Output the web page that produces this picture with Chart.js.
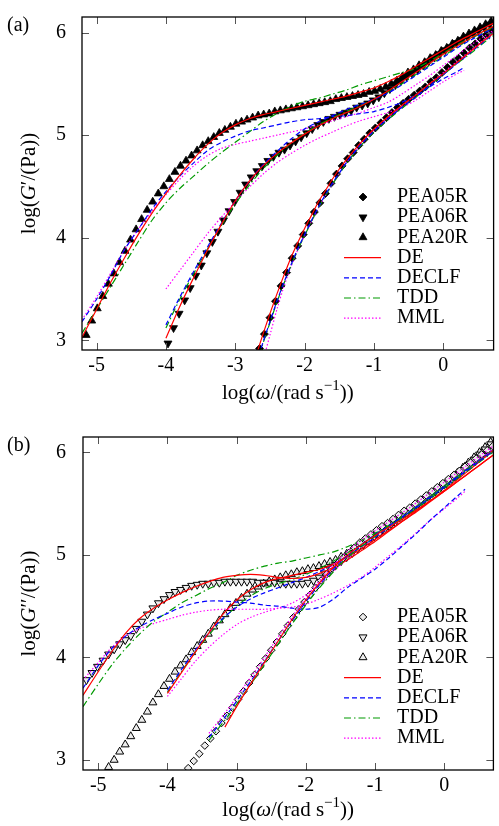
<!DOCTYPE html>
<html>
  <head>
    <meta charset="utf-8">
    <title>G' and G'' fits</title>
    <script src="https://cdn.jsdelivr.net/npm/chart.js"></script>
    <style>
      body { margin: 0; background: #fff; }
      #wrap { position: relative; width: 499px; height: 826px; }
      canvas { position: absolute; left: 0; }
    </style>
  </head>
  <body>
    <div id="wrap">
      <canvas id="chartA" width="499" height="420" style="top:0"></canvas>
      <canvas id="chartB" width="499" height="406" style="top:420px"></canvas>
    </div>
    <script>
      const xTicks = [-5, -4, -3, -2, -1, 0];
      const yTicks = [3, 4, 5, 6];
      const legendLabels = ['PEA05R', 'PEA06R', 'PEA20R', 'DE', 'DECLF', 'TDD', 'MML'];

      // ---- (a) G' : measured points ----
      const a_pea05r = [[-2.65,2.92],[-2.58,3.06],[-2.5,3.22],[-2.42,3.38],[-2.34,3.53],[-2.26,3.66],[-2.18,3.8],[-2.1,3.92],[-2.02,4.03],[-1.94,4.14],[-1.86,4.25],[-1.78,4.34],[-1.7,4.43],[-1.62,4.53],[-1.54,4.62],[-1.46,4.7],[-1.38,4.77],[-1.3,4.83],[-1.22,4.9],[-1.14,4.96],[-1.06,5.02],[-0.98,5.07],[-0.9,5.12],[-0.82,5.17],[-0.74,5.22],[-0.66,5.27],[-0.58,5.31],[-0.5,5.35],[-0.42,5.39],[-0.34,5.43],[-0.26,5.47],[-0.18,5.52],[-0.1,5.56],[-0.02,5.61],[0.06,5.66],[0.14,5.71],[0.22,5.75],[0.3,5.8],[0.38,5.85],[0.46,5.89],[0.54,5.94],[0.62,5.98],[0.7,6.02]];
      const a_pea06r = [[-3.97,2.97],[-3.89,3.12],[-3.81,3.26],[-3.73,3.39],[-3.65,3.51],[-3.57,3.63],[-3.49,3.73],[-3.41,3.85],[-3.33,3.96],[-3.25,4.06],[-3.17,4.17],[-3.09,4.26],[-3.01,4.35],[-2.93,4.44],[-2.85,4.52],[-2.77,4.59],[-2.69,4.65],[-2.61,4.7],[-2.53,4.75],[-2.45,4.79],[-2.37,4.83],[-2.29,4.86],[-2.21,4.9],[-2.13,4.94],[-2.05,4.98],[-1.97,5.02],[-1.89,5.06],[-1.81,5.1],[-1.73,5.13],[-1.65,5.16],[-1.57,5.18],[-1.49,5.2],[-1.41,5.22],[-1.33,5.24],[-1.25,5.27],[-1.17,5.29],[-1.09,5.31],[-1.01,5.34],[-0.93,5.37],[-0.85,5.41],[-0.77,5.45],[-0.69,5.49],[-0.61,5.53],[-0.53,5.57],[-0.45,5.6],[-0.37,5.64],[-0.29,5.68],[-0.21,5.72],[-0.13,5.76],[-0.05,5.79],[0.03,5.83],[0.11,5.86],[0.19,5.9],[0.27,5.93],[0.35,5.96],[0.43,5.99],[0.51,6.02],[0.59,6.05],[0.67,6.08]];
      const a_pea20r = [[-5.15,3.05],[-5.07,3.19],[-4.99,3.31],[-4.91,3.43],[-4.83,3.55],[-4.75,3.65],[-4.67,3.76],[-4.59,3.87],[-4.51,3.98],[-4.43,4.08],[-4.35,4.18],[-4.27,4.27],[-4.19,4.35],[-4.11,4.43],[-4.03,4.5],[-3.95,4.57],[-3.87,4.64],[-3.79,4.7],[-3.71,4.75],[-3.63,4.8],[-3.55,4.85],[-3.47,4.9],[-3.39,4.94],[-3.31,4.98],[-3.23,5.02],[-3.15,5.05],[-3.07,5.08],[-2.99,5.11],[-2.91,5.13],[-2.83,5.15],[-2.75,5.17],[-2.67,5.19],[-2.59,5.2],[-2.51,5.21],[-2.43,5.23],[-2.35,5.24],[-2.27,5.25],[-2.19,5.26],[-2.11,5.27],[-2.03,5.28],[-1.95,5.29],[-1.87,5.3],[-1.79,5.31],[-1.71,5.32],[-1.63,5.33],[-1.55,5.35],[-1.47,5.36],[-1.39,5.37],[-1.31,5.38],[-1.23,5.39],[-1.15,5.4],[-1.07,5.42],[-0.99,5.43],[-0.91,5.45],[-0.83,5.47],[-0.75,5.5],[-0.67,5.53],[-0.59,5.57],[-0.51,5.61],[-0.43,5.64],[-0.35,5.68],[-0.27,5.71],[-0.19,5.75],[-0.11,5.78],[-0.03,5.82],[0.05,5.85],[0.13,5.89],[0.21,5.92],[0.29,5.96],[0.37,5.99],[0.45,6.02],[0.53,6.05],[0.61,6.08],[0.69,6.11]];

      // ---- (a) G' : model curves ----
      const a_05_de = [[-2.7,2.85],[-2.6,3.06],[-2.5,3.26],[-2.4,3.45],[-2.3,3.63],[-2.2,3.8],[-2.1,3.95],[-2.0,4.09],[-1.9,4.22],[-1.8,4.35],[-1.7,4.46],[-1.6,4.57],[-1.5,4.67],[-1.4,4.76],[-1.2,4.92],[-1.0,5.06],[-0.8,5.18],[-0.6,5.29],[-0.4,5.39],[-0.2,5.5],[0.0,5.6],[0.2,5.71],[0.4,5.82],[0.6,5.93],[0.72,5.99]];
      const a_05_declf = [[-2.66,2.85],[-2.6,2.98],[-2.5,3.18],[-2.4,3.38],[-2.3,3.56],[-2.2,3.73],[-2.1,3.89],[-2.0,4.03],[-1.9,4.17],[-1.8,4.3],[-1.7,4.42],[-1.6,4.53],[-1.5,4.63],[-1.4,4.73],[-1.2,4.9],[-1.0,5.04],[-0.8,5.16],[-0.6,5.27],[-0.4,5.37],[-0.2,5.48],[0.0,5.59],[0.2,5.7],[0.4,5.81],[0.6,5.92],[0.72,5.98]];
      const a_05_tdd = [[-2.65,2.85],[-2.6,2.97],[-2.5,3.17],[-2.4,3.37],[-2.3,3.55],[-2.2,3.72],[-2.1,3.88],[-2.0,4.02],[-1.9,4.16],[-1.8,4.29],[-1.7,4.41],[-1.6,4.52],[-1.5,4.62],[-1.4,4.72],[-1.2,4.89],[-1.0,5.03],[-0.8,5.15],[-0.6,5.26],[-0.4,5.37],[-0.2,5.48],[0.0,5.59],[0.2,5.7],[0.4,5.8],[0.6,5.91],[0.72,5.97]];
      const a_05_mml = [[-2.58,2.85],[-2.5,3.05],[-2.4,3.3],[-2.3,3.52],[-2.2,3.71],[-2.1,3.88],[-2.0,4.02],[-1.9,4.16],[-1.8,4.29],[-1.7,4.41],[-1.6,4.52],[-1.5,4.63],[-1.4,4.73],[-1.2,4.9],[-1.0,5.05],[-0.8,5.17],[-0.6,5.28],[-0.4,5.39],[-0.2,5.5],[0.0,5.61],[0.2,5.72],[0.4,5.83],[0.6,5.94],[0.72,6.0]];

      const a_06_de = [[-4.0,3.02],[-3.8,3.33],[-3.6,3.61],[-3.4,3.88],[-3.2,4.13],[-3.0,4.36],[-2.8,4.55],[-2.6,4.7],[-2.4,4.82],[-2.2,4.92],[-2.0,5.01],[-1.8,5.09],[-1.6,5.16],[-1.4,5.22],[-1.2,5.28],[-1.0,5.35],[-0.8,5.43],[-0.6,5.52],[-0.4,5.61],[-0.2,5.7],[0.0,5.79],[0.2,5.87],[0.4,5.95],[0.6,6.02],[0.72,6.06]];
      const a_06_declf = [[-4.0,3.15],[-3.8,3.42],[-3.6,3.67],[-3.4,3.91],[-3.2,4.14],[-3.0,4.36],[-2.8,4.55],[-2.6,4.71],[-2.4,4.84],[-2.2,4.96],[-2.0,5.06],[-1.8,5.13],[-1.6,5.19],[-1.4,5.25],[-1.2,5.3],[-1.0,5.35],[-0.8,5.41],[-0.6,5.49],[-0.4,5.58],[-0.2,5.67],[0.0,5.76],[0.2,5.85],[0.4,5.93],[0.6,6.0],[0.72,6.04]];
      const a_06_tdd = [[-4.0,3.12],[-3.8,3.4],[-3.6,3.65],[-3.4,3.89],[-3.2,4.12],[-3.0,4.33],[-2.8,4.51],[-2.6,4.67],[-2.4,4.8],[-2.2,4.92],[-2.0,5.02],[-1.8,5.1],[-1.6,5.17],[-1.4,5.23],[-1.2,5.29],[-1.0,5.35],[-0.8,5.42],[-0.6,5.5],[-0.4,5.59],[-0.2,5.68],[0.0,5.77],[0.2,5.86],[0.4,5.94],[0.6,6.01],[0.72,6.05]];
      const a_06_mml = [[-4.0,3.5],[-3.8,3.68],[-3.6,3.86],[-3.4,4.04],[-3.2,4.2],[-3.0,4.35],[-2.8,4.49],[-2.6,4.62],[-2.4,4.73],[-2.2,4.82],[-2.0,4.9],[-1.8,4.97],[-1.6,5.03],[-1.4,5.09],[-1.2,5.14],[-1.0,5.18],[-0.8,5.22],[-0.6,5.27],[-0.4,5.34],[-0.2,5.43],[0.0,5.52],[0.2,5.6],[0.3,5.63]];

      const a_20_de = [[-5.21,3.03],[-5.0,3.3],[-4.8,3.56],[-4.6,3.8],[-4.4,4.03],[-4.2,4.24],[-4.0,4.43],[-3.8,4.61],[-3.6,4.77],[-3.4,4.91],[-3.2,5.02],[-3.0,5.1],[-2.8,5.16],[-2.6,5.2],[-2.4,5.23],[-2.2,5.26],[-2.0,5.29],[-1.8,5.32],[-1.6,5.35],[-1.4,5.38],[-1.2,5.42],[-1.0,5.46],[-0.8,5.52],[-0.6,5.59],[-0.4,5.67],[-0.2,5.75],[0.0,5.83],[0.2,5.91],[0.4,5.98],[0.6,6.05],[0.72,6.09]];
      const a_20_declf = [[-5.21,3.18],[-5.0,3.4],[-4.8,3.63],[-4.6,3.88],[-4.4,4.08],[-4.2,4.28],[-4.0,4.45],[-3.8,4.6],[-3.6,4.73],[-3.4,4.85],[-3.2,4.93],[-3.0,4.99],[-2.8,5.04],[-2.6,5.07],[-2.4,5.1],[-2.2,5.13],[-2.0,5.15],[-1.8,5.16],[-1.6,5.18],[-1.4,5.19],[-1.2,5.21],[-1.0,5.23],[-0.8,5.27],[-0.6,5.32],[-0.4,5.39],[-0.2,5.47],[0.0,5.55],[0.2,5.62],[0.3,5.66]];
      const a_20_tdd = [[-5.21,3.07],[-5.0,3.3],[-4.8,3.52],[-4.6,3.74],[-4.4,3.96],[-4.2,4.17],[-4.0,4.34],[-3.8,4.48],[-3.6,4.6],[-3.4,4.72],[-3.2,4.83],[-3.0,4.93],[-2.8,5.03],[-2.6,5.13],[-2.4,5.21],[-2.2,5.28],[-2.0,5.33],[-1.8,5.36],[-1.6,5.4],[-1.4,5.44],[-1.2,5.49],[-1.0,5.53],[-0.8,5.57],[-0.6,5.61],[-0.4,5.65],[-0.2,5.72],[0.0,5.8],[0.2,5.88],[0.4,5.95],[0.6,6.02],[0.72,6.06]];
      const a_20_mml = [[-5.21,3.2],[-5.0,3.42],[-4.8,3.65],[-4.6,3.88],[-4.4,4.08],[-4.2,4.26],[-4.0,4.42],[-3.8,4.57],[-3.6,4.7],[-3.4,4.8],[-3.2,4.87],[-3.0,4.91],[-2.8,4.94],[-2.6,4.97],[-2.4,5.0],[-2.2,5.03],[-2.0,5.06],[-1.8,5.1],[-1.6,5.14],[-1.4,5.18],[-1.2,5.22],[-1.0,5.27],[-0.8,5.32],[-0.6,5.4],[-0.4,5.49],[-0.2,5.58],[0.0,5.68],[0.2,5.78],[0.4,5.88],[0.6,5.97],[0.72,6.02]];

      // ---- (b) G'' : measured points ----
      const b_pea05r = [[-3.7,2.92],[-3.62,2.99],[-3.54,3.06],[-3.46,3.14],[-3.38,3.21],[-3.3,3.28],[-3.22,3.36],[-3.14,3.43],[-3.06,3.51],[-2.98,3.59],[-2.9,3.67],[-2.82,3.75],[-2.74,3.83],[-2.66,3.91],[-2.58,3.99],[-2.5,4.07],[-2.42,4.15],[-2.34,4.23],[-2.26,4.31],[-2.18,4.39],[-2.1,4.47],[-2.02,4.54],[-1.94,4.61],[-1.86,4.68],[-1.78,4.75],[-1.7,4.81],[-1.62,4.87],[-1.54,4.92],[-1.46,4.97],[-1.38,5.02],[-1.3,5.07],[-1.22,5.12],[-1.14,5.16],[-1.06,5.2],[-0.98,5.24],[-0.9,5.28],[-0.82,5.31],[-0.74,5.35],[-0.66,5.39],[-0.58,5.43],[-0.5,5.46],[-0.42,5.5],[-0.34,5.54],[-0.26,5.58],[-0.18,5.62],[-0.1,5.66],[-0.02,5.7],[0.06,5.74],[0.14,5.78],[0.22,5.82],[0.3,5.86],[0.38,5.9],[0.46,5.94],[0.54,5.98],[0.62,6.02],[0.7,6.06]];
      const b_pea06r = [[-5.17,3.78],[-5.09,3.85],[-5.01,3.91],[-4.93,3.97],[-4.85,4.03],[-4.77,4.08],[-4.69,4.13],[-4.61,4.17],[-4.53,4.21],[-4.45,4.28],[-4.37,4.35],[-4.29,4.42],[-4.21,4.48],[-4.13,4.53],[-4.05,4.57],[-3.97,4.61],[-3.89,4.64],[-3.81,4.66],[-3.73,4.68],[-3.65,4.7],[-3.57,4.71],[-3.49,4.72],[-3.41,4.72],[-3.33,4.73],[-3.25,4.73],[-3.17,4.74],[-3.09,4.74],[-3.01,4.74],[-2.93,4.74],[-2.85,4.74],[-2.77,4.74],[-2.69,4.73],[-2.61,4.73],[-2.53,4.73],[-2.45,4.73],[-2.37,4.72],[-2.29,4.72],[-2.21,4.72],[-2.13,4.72],[-2.05,4.72],[-1.97,4.73],[-1.89,4.75],[-1.81,4.78],[-1.73,4.82],[-1.65,4.86],[-1.57,4.9],[-1.49,4.94],[-1.41,4.98],[-1.33,5.02],[-1.25,5.06],[-1.17,5.1],[-1.09,5.14],[-1.01,5.18],[-0.93,5.22],[-0.85,5.26],[-0.77,5.3],[-0.69,5.34],[-0.61,5.38],[-0.53,5.42],[-0.45,5.46],[-0.37,5.5],[-0.29,5.54],[-0.21,5.58],[-0.13,5.62],[-0.05,5.66],[0.03,5.7],[0.11,5.74],[0.19,5.78],[0.27,5.83],[0.35,5.88],[0.43,5.93],[0.51,5.98],[0.59,6.03],[0.67,6.08]];
      const b_pea20r = [[-4.85,2.93],[-4.77,3.0],[-4.69,3.08],[-4.61,3.15],[-4.53,3.23],[-4.45,3.31],[-4.37,3.39],[-4.29,3.47],[-4.21,3.56],[-4.13,3.64],[-4.05,3.72],[-3.97,3.79],[-3.89,3.86],[-3.81,3.92],[-3.73,3.98],[-3.65,4.05],[-3.57,4.11],[-3.49,4.17],[-3.41,4.23],[-3.33,4.3],[-3.25,4.36],[-3.17,4.42],[-3.09,4.48],[-3.01,4.53],[-2.93,4.58],[-2.85,4.62],[-2.77,4.66],[-2.69,4.69],[-2.61,4.72],[-2.53,4.74],[-2.45,4.76],[-2.37,4.78],[-2.29,4.8],[-2.21,4.81],[-2.13,4.83],[-2.05,4.84],[-1.97,4.86],[-1.89,4.87],[-1.81,4.89],[-1.73,4.91],[-1.65,4.93],[-1.57,4.95],[-1.49,4.98],[-1.41,5.01],[-1.33,5.05],[-1.25,5.08],[-1.17,5.12],[-1.09,5.15],[-1.01,5.19],[-0.93,5.23],[-0.85,5.27],[-0.77,5.31],[-0.69,5.35],[-0.61,5.39],[-0.53,5.43],[-0.45,5.47],[-0.37,5.51],[-0.29,5.55],[-0.21,5.59],[-0.13,5.63],[-0.05,5.67],[0.03,5.71],[0.11,5.75],[0.19,5.8],[0.27,5.85],[0.35,5.9],[0.43,5.95],[0.51,6.0],[0.59,6.05],[0.67,6.1]];

      // ---- (b) G'' : model curves ----
      const b_05_de = [[-3.17,3.32],[-3.0,3.52],[-2.8,3.74],[-2.6,3.95],[-2.4,4.16],[-2.2,4.37],[-2.0,4.56],[-1.8,4.73],[-1.6,4.88],[-1.4,5.0],[-1.2,5.1],[-1.0,5.19],[-0.8,5.27],[-0.6,5.35],[-0.4,5.44],[-0.2,5.53],[0.0,5.62],[0.2,5.72],[0.4,5.82],[0.6,5.92],[0.72,5.98]];
      const b_05_declf = [[-3.4,3.22],[-3.1,3.48],[-2.9,3.67],[-2.7,3.86],[-2.5,4.06],[-2.3,4.26],[-2.1,4.45],[-1.9,4.63],[-1.7,4.79],[-1.5,4.93],[-1.3,5.05],[-1.1,5.15],[-0.9,5.24],[-0.7,5.33],[-0.5,5.42],[-0.3,5.51],[-0.1,5.61],[0.1,5.71],[0.3,5.81],[0.5,5.91],[0.72,6.02]];
      const b_05_tdd = [[-3.4,3.19],[-3.1,3.45],[-2.9,3.64],[-2.7,3.83],[-2.5,4.03],[-2.3,4.23],[-2.1,4.42],[-1.9,4.6],[-1.7,4.76],[-1.5,4.91],[-1.3,5.03],[-1.1,5.13],[-0.9,5.23],[-0.7,5.32],[-0.5,5.41],[-0.3,5.5],[-0.1,5.6],[0.1,5.7],[0.3,5.8],[0.5,5.9],[0.72,6.01]];
      const b_05_mml = [[-3.4,3.26],[-3.1,3.52],[-2.9,3.71],[-2.7,3.9],[-2.5,4.1],[-2.3,4.3],[-2.1,4.49],[-1.9,4.67],[-1.7,4.83],[-1.5,4.97],[-1.3,5.09],[-1.1,5.19],[-0.9,5.28],[-0.7,5.37],[-0.5,5.46],[-0.3,5.56],[-0.1,5.66],[0.1,5.76],[0.3,5.86],[0.5,5.96],[0.72,6.07]];

      const b_06_de = [[-5.22,3.63],[-5.0,3.86],[-4.8,4.06],[-4.6,4.24],[-4.4,4.38],[-4.2,4.48],[-4.0,4.56],[-3.8,4.63],[-3.6,4.69],[-3.4,4.74],[-3.2,4.78],[-3.0,4.8],[-2.8,4.81],[-2.6,4.8],[-2.4,4.78],[-2.2,4.77],[-2.0,4.78],[-1.8,4.82],[-1.6,4.88],[-1.4,4.95],[-1.2,5.04],[-1.0,5.13],[-0.8,5.23],[-0.6,5.33],[-0.4,5.43],[-0.2,5.53],[0.0,5.63],[0.2,5.74],[0.4,5.85],[0.6,5.96],[0.72,6.03]];
      const b_06_declf = [[-5.22,3.7],[-5.0,3.92],[-4.8,4.09],[-4.6,4.21],[-4.4,4.3],[-4.2,4.37],[-4.0,4.43],[-3.8,4.49],[-3.6,4.53],[-3.4,4.55],[-3.2,4.55],[-3.0,4.54],[-2.8,4.53],[-2.6,4.51],[-2.4,4.5],[-2.2,4.48],[-2.0,4.47],[-1.8,4.49],[-1.6,4.57],[-1.4,4.68],[-1.2,4.77],[-1.0,4.86],[-0.8,4.97],[-0.6,5.09],[-0.4,5.21],[-0.2,5.34],[0.0,5.46],[0.2,5.58],[0.3,5.64]];
      const b_06_tdd = [[-5.22,3.52],[-5.0,3.74],[-4.8,3.93],[-4.6,4.09],[-4.4,4.23],[-4.2,4.35],[-4.0,4.44],[-3.8,4.53],[-3.6,4.6],[-3.4,4.67],[-3.2,4.73],[-3.0,4.8],[-2.8,4.85],[-2.6,4.89],[-2.4,4.92],[-2.2,4.94],[-2.0,4.97],[-1.8,5.0],[-1.6,5.03],[-1.4,5.08],[-1.2,5.14],[-1.0,5.21],[-0.8,5.29],[-0.6,5.38],[-0.4,5.47],[-0.2,5.57],[0.0,5.67],[0.2,5.77],[0.4,5.87],[0.6,5.96],[0.72,6.02]];
      const b_06_mml = [[-5.22,3.78],[-5.0,3.95],[-4.8,4.1],[-4.6,4.21],[-4.4,4.28],[-4.2,4.33],[-4.0,4.37],[-3.8,4.41],[-3.6,4.44],[-3.4,4.46],[-3.2,4.47],[-3.0,4.47],[-2.8,4.47],[-2.6,4.47],[-2.4,4.48],[-2.2,4.49],[-2.0,4.52],[-1.8,4.57],[-1.6,4.63],[-1.4,4.7],[-1.2,4.78],[-1.0,4.88],[-0.8,4.99],[-0.6,5.1],[-0.4,5.22],[-0.2,5.34],[0.0,5.45],[0.2,5.56],[0.3,5.62]];

      const b_20_de = [[-4.0,3.65],[-3.8,3.85],[-3.6,4.05],[-3.4,4.24],[-3.2,4.42],[-3.0,4.56],[-2.8,4.66],[-2.6,4.73],[-2.4,4.77],[-2.2,4.8],[-2.0,4.83],[-1.8,4.86],[-1.6,4.91],[-1.4,4.98],[-1.2,5.06],[-1.0,5.15],[-0.8,5.24],[-0.6,5.33],[-0.4,5.42],[-0.2,5.52],[0.0,5.62],[0.2,5.72],[0.4,5.82],[0.6,5.92],[0.72,5.98]];
      const b_20_declf = [[-4.0,3.68],[-3.8,3.88],[-3.6,4.07],[-3.4,4.24],[-3.2,4.38],[-3.0,4.49],[-2.8,4.57],[-2.6,4.63],[-2.4,4.68],[-2.2,4.73],[-2.0,4.78],[-1.8,4.84],[-1.6,4.91],[-1.4,4.99],[-1.2,5.08],[-1.0,5.17],[-0.8,5.27],[-0.6,5.37],[-0.4,5.47],[-0.2,5.57],[0.0,5.67],[0.2,5.77],[0.4,5.87],[0.6,5.97],[0.72,6.03]];
      const b_20_tdd = [[-4.0,3.66],[-3.8,3.86],[-3.6,4.05],[-3.4,4.22],[-3.2,4.37],[-3.0,4.5],[-2.8,4.6],[-2.6,4.67],[-2.4,4.72],[-2.2,4.76],[-2.0,4.81],[-1.8,4.87],[-1.6,4.94],[-1.4,5.02],[-1.2,5.1],[-1.0,5.19],[-0.8,5.28],[-0.6,5.37],[-0.4,5.47],[-0.2,5.57],[0.0,5.67],[0.2,5.77],[0.4,5.87],[0.6,5.96],[0.72,6.02]];
      const b_20_mml = [[-4.0,3.62],[-3.8,3.79],[-3.6,3.96],[-3.4,4.1],[-3.2,4.22],[-3.0,4.32],[-2.8,4.39],[-2.6,4.44],[-2.4,4.48],[-2.2,4.53],[-2.0,4.61],[-1.8,4.72],[-1.6,4.84],[-1.4,4.96],[-1.2,5.07],[-1.0,5.17],[-0.8,5.27],[-0.6,5.37],[-0.4,5.47],[-0.2,5.57],[0.0,5.67],[0.2,5.78],[0.4,5.88],[0.6,5.98],[0.72,6.04]];

      const SERIF = '"Liberation Serif", "DejaVu Serif", serif';
      const RED = '#ff0000', BLUE = '#0000ff', GREEN = '#009a00', MAG = '#ff00ff';
      const OPEN = '#ececec';
      const DASH = { de: [], declf: [5, 3], tdd: [7, 3, 1.5, 3], mml: [1.5, 2] };

      function lineDs(data, color, dash) {
        return { data: data, showLine: true, borderColor: color, borderWidth: 1.2, borderDash: dash,
                 pointRadius: 0, tension: 0.3, fill: false };
      }
      function markDs(data, style, rot, bg, r, bw) {
        return { data: data, showLine: false, pointStyle: style, pointRotation: rot, pointRadius: r,
                 pointBackgroundColor: bg, pointBorderColor: '#000', pointBorderWidth: bw };
      }

      function rich(ctx, parts, x, y) {
        let w = 0;
        parts.forEach(p => { ctx.font = p.f; w += ctx.measureText(p.t).width; });
        let cx = x - w / 2;
        ctx.textAlign = 'left';
        parts.forEach(p => {
          ctx.font = p.f;
          ctx.fillText(p.t, cx, y + (p.dy || 0));
          cx += ctx.measureText(p.t).width;
        });
      }

      function makePanel(id, opts) {
        const deco = {
          id: 'deco',
          afterDatasetsDraw(chart) {
            const ctx = chart.ctx, a = chart.chartArea;
            const sx = chart.scales.x, sy = chart.scales.y;
            ctx.save();
            ctx.strokeStyle = '#555';
            ctx.lineWidth = 1;
            ctx.beginPath();
            xTicks.forEach(v => {
              const p = Math.round(sx.getPixelForValue(v)) + 0.5;
              ctx.moveTo(p, a.bottom); ctx.lineTo(p, a.bottom - 7);
              ctx.moveTo(p, a.top); ctx.lineTo(p, a.top + 7);
            });
            yTicks.forEach(v => {
              const p = Math.round(sy.getPixelForValue(v)) + 0.5;
              ctx.moveTo(a.left, p); ctx.lineTo(a.left + 7, p);
              ctx.moveTo(a.right, p); ctx.lineTo(a.right - 7, p);
            });
            ctx.stroke();
            ctx.strokeStyle = '#000';
            ctx.lineWidth = 1.3;
            ctx.strokeRect(a.left, a.top, a.right - a.left, a.bottom - a.top);

            ctx.fillStyle = '#000';
            ctx.font = '20px ' + SERIF;
            ctx.textBaseline = 'middle';
            ctx.textAlign = 'center';
            xTicks.forEach(v => ctx.fillText(String(v), sx.getPixelForValue(v), a.bottom + 16));
            ctx.textAlign = 'right';
            yTicks.forEach(v => ctx.fillText(String(v), 66, sy.getPixelForValue(v)));

            ctx.textAlign = 'left';
            ctx.fillText(opts.tag, 7, 26);

            const f = '21px ' + SERIF, fi = 'italic 21px ' + SERIF, fs = '15px ' + SERIF;
            rich(ctx, [{t: 'log(', f: f}, {t: 'ω', f: fi}, {t: '/(rad s', f: f}, {t: '−1', f: fs, dy: -7}, {t: '))', f: f}],
                 (a.left + a.right) / 2, a.bottom + opts.titleGap);
            ctx.save();
            ctx.translate(29, (a.top + a.bottom) / 2);
            ctx.rotate(-Math.PI / 2);
            rich(ctx, [{t: 'log(', f: f}, {t: 'G', f: fi}, {t: opts.prime, f: f}, {t: '/(Pa))', f: f}], 0, 0);
            ctx.restore();

            // key
            ctx.font = '20px ' + SERIF;
            ctx.textAlign = 'left';
            opts.key.forEach((k, i) => {
              const yy = 197 + i * 20.2;
              ctx.fillText(legendLabels[i], 397, yy);
              if (k.line) {
                ctx.save();
                ctx.strokeStyle = k.line;
                ctx.lineWidth = 1.2;
                ctx.setLineDash(k.dash);
                ctx.beginPath(); ctx.moveTo(344, yy); ctx.lineTo(381, yy); ctx.stroke();
                ctx.restore();
              } else {
                ctx.save();
                ctx.fillStyle = k.bg;
                ctx.strokeStyle = '#000';
                ctx.lineWidth = k.bw;
                Chart.helpers.drawPoint(ctx, {pointStyle: k.style, rotation: k.rot, radius: k.r, borderWidth: k.bw}, 363, yy);
                ctx.restore();
              }
            });
            ctx.restore();
          }
        };

        return new Chart(document.getElementById(id), {
          type: 'scatter',
          data: { datasets: opts.datasets },
          options: {
            responsive: false,
            animation: false,
            events: [],
            layout: { padding: { top: 17, right: 1, left: 0, bottom: 0 } },
            plugins: { legend: { display: false }, tooltip: { enabled: false } },
            scales: {
              x: { type: 'linear', min: opts.xmin, max: opts.xmax,
                   ticks: { display: false }, grid: { display: false, drawTicks: false }, border: { display: false },
                   afterFit: s => { s.height = opts.bottomH; } },
              y: { type: 'linear', min: opts.ymin, max: opts.ymax,
                   ticks: { display: false }, grid: { display: false, drawTicks: false }, border: { display: false },
                   afterFit: s => { s.width = opts.leftW; } }
            }
          },
          plugins: [deco]
        });
      }

      const keyA = [
        {style: 'rectRot', rot: 0, bg: '#000', r: 4, bw: 0.8},
        {style: 'triangle', rot: 180, bg: '#000', r: 4.6, bw: 0.8},
        {style: 'triangle', rot: 0, bg: '#000', r: 4.6, bw: 0.8},
        {line: RED, dash: DASH.de}, {line: BLUE, dash: DASH.declf}, {line: GREEN, dash: DASH.tdd}, {line: MAG, dash: DASH.mml}
      ];
      const keyB = [
        {style: 'rectRot', rot: 0, bg: OPEN, r: 3.8, bw: 1},
        {style: 'triangle', rot: 180, bg: OPEN, r: 4.6, bw: 1},
        {style: 'triangle', rot: 0, bg: OPEN, r: 4.6, bw: 1},
        {line: RED, dash: DASH.de}, {line: BLUE, dash: DASH.declf}, {line: GREEN, dash: DASH.tdd}, {line: MAG, dash: DASH.mml}
      ];

      makePanel('chartA', {
        tag: '(a)', prime: '′', titleGap: 43, xmin: -5.21, xmax: 0.725, ymin: 2.905, ymax: 6.152,
        leftW: 82, bottomH: 70, key: keyA,
        datasets: [
          lineDs(a_05_de, RED, DASH.de), lineDs(a_05_declf, BLUE, DASH.declf), lineDs(a_05_tdd, GREEN, DASH.tdd), lineDs(a_05_mml, MAG, DASH.mml),
          lineDs(a_06_de, RED, DASH.de), lineDs(a_06_declf, BLUE, DASH.declf), lineDs(a_06_tdd, GREEN, DASH.tdd), lineDs(a_06_mml, MAG, DASH.mml),
          lineDs(a_20_de, RED, DASH.de), lineDs(a_20_declf, BLUE, DASH.declf), lineDs(a_20_tdd, GREEN, DASH.tdd), lineDs(a_20_mml, MAG, DASH.mml),
          markDs(a_pea05r, 'rectRot', 0, '#000', 4, 0.8),
          markDs(a_pea06r, 'triangle', 180, '#000', 4.6, 0.8),
          markDs(a_pea20r, 'triangle', 0, '#000', 4.6, 0.8)
        ]
      });

      makePanel('chartB', {
        tag: '(b)', prime: '′′', titleGap: 40, xmin: -5.22, xmax: 0.71, ymin: 2.902, ymax: 6.15,
        leftW: 83, bottomH: 56, key: keyB,
        datasets: [
          lineDs(b_05_de, RED, DASH.de), lineDs(b_05_declf, BLUE, DASH.declf), lineDs(b_05_tdd, GREEN, DASH.tdd), lineDs(b_05_mml, MAG, DASH.mml),
          lineDs(b_06_de, RED, DASH.de), lineDs(b_06_declf, BLUE, DASH.declf), lineDs(b_06_tdd, GREEN, DASH.tdd), lineDs(b_06_mml, MAG, DASH.mml),
          lineDs(b_20_de, RED, DASH.de), lineDs(b_20_declf, BLUE, DASH.declf), lineDs(b_20_tdd, GREEN, DASH.tdd), lineDs(b_20_mml, MAG, DASH.mml),
          markDs(b_pea05r, 'rectRot', 0, OPEN, 3.8, 1),
          markDs(b_pea06r, 'triangle', 180, OPEN, 4.6, 1),
          markDs(b_pea20r, 'triangle', 0, OPEN, 4.6, 1)
        ]
      });
    </script>
  </body>
</html>
